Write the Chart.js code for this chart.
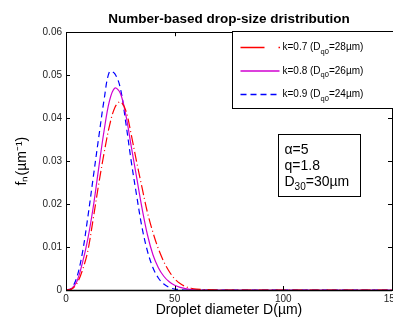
<!DOCTYPE html>
<html lang="en">
  <head>
    <meta charset="UTF-8" />
    <title>Number-based drop-size dristribution</title>
    <script src="https://cdn.jsdelivr.net/npm/chart.js"></script>
    <style>
      html, body { margin: 0; padding: 0; background: #fff; overflow: hidden; }
      #wrap { width: 410px; height: 320px; }
    </style>
  </head>
  <body>
    <div id="wrap"><canvas id="dropChart" width="410" height="320"></canvas></div>
    <script>
      // droplet diameter D (µm)
      var diameters = [0, 2.5, 5, 7.5, 10, 12.5, 15, 17.5, 20, 22.5, 25, 27.5, 30, 32.5, 35, 37.5, 40, 42.5, 45, 47.5, 50, 52.5, 55, 57.5, 60,
        70, 80, 90, 100, 110, 120, 130, 140, 150];
      // f_n values
      var fnK07 = [0, 0.0002, 0.0015, 0.0045, 0.009, 0.0165, 0.0245, 0.0318, 0.0382, 0.0425, 0.0438, 0.0418, 0.0362, 0.0298, 0.0238, 0.018, 0.0134, 0.0096, 0.0066, 0.0043, 0.0026, 0.0015, 0.0008, 0.0004, 0.0002,
        0, 0, 0, 0, 0, 0, 0, 0, 0];
      var fnK08 = [0, 0.0003, 0.002, 0.0062, 0.0118, 0.0192, 0.0282, 0.037, 0.044, 0.047, 0.0458, 0.0408, 0.0335, 0.0262, 0.019, 0.0128, 0.0082, 0.0052, 0.0032, 0.0019, 0.0011, 0.0006, 0.0003, 0.0001, 0,
        0, 0, 0, 0, 0, 0, 0, 0, 0];
      var fnK09 = [0, 0.0004, 0.003, 0.0085, 0.0168, 0.0261, 0.0353, 0.0442, 0.0508, 0.0503, 0.047, 0.039, 0.03, 0.022, 0.0145, 0.009, 0.0052, 0.0028, 0.0014, 0.0006, 0.0002, 0.0001, 0, 0, 0,
        0, 0, 0, 0, 0, 0, 0, 0, 0];
      var xTicks = [0, 50, 100, 150];
      var yTicks = [0, 0.01, 0.02, 0.03, 0.04, 0.05, 0.06];
      var legendMain = ["k=0.7 (D", "k=0.8 (D", "k=0.9 (D"];
      var legendTail = ["=28µm)", "=26µm)", "=24µm)"];
      var lineColors = ["#ff0000", "#d000d0", "#0000ff"];

      function pts(ys) {
        return diameters.map(function (d, i) { return { x: d, y: ys[i] }; });
      }

      var FONT = "'Liberation Sans', Arial, sans-serif";

      // box, inward ticks, legend and parameter box
      var decor = {
        id: "decor",
        afterDatasetsDraw: function (chart) {
          var ctx = chart.ctx, a = chart.chartArea;
          var xs = chart.scales.x, ys = chart.scales.y;
          ctx.save();
          ctx.strokeStyle = "#000";
          ctx.lineWidth = 1;
          ctx.setLineDash([]);
          ctx.strokeRect(Math.round(a.left) + 0.5, Math.round(a.top) + 0.5, Math.round(a.right - a.left), Math.round(a.bottom - a.top));
          ctx.beginPath();
          xTicks.forEach(function (v) {
            var px = Math.round(xs.getPixelForValue(v)) + 0.5;
            ctx.moveTo(px, a.bottom); ctx.lineTo(px, a.bottom - 4);
            ctx.moveTo(px, a.top); ctx.lineTo(px, a.top + 4);
          });
          yTicks.forEach(function (v) {
            var py = Math.round(ys.getPixelForValue(v)) + 0.5;
            ctx.moveTo(a.left, py); ctx.lineTo(a.left + 4, py);
            ctx.moveTo(a.right, py); ctx.lineTo(a.right - 4, py);
          });
          ctx.stroke();
          ctx.lineWidth = 1.5;
          ctx.beginPath();
          ctx.moveTo(a.left, Math.round(a.bottom) + 0.5);
          ctx.lineTo(a.right, Math.round(a.bottom) + 0.5);
          ctx.stroke();

          // legend
          var lx = Math.round(a.left) + 166.5, ly = Math.round(a.top) - 0.5;
          var lw = 170, lh = 77;
          ctx.lineWidth = 1;
          ctx.strokeStyle = "#000";
          ctx.fillStyle = "#fff";
          ctx.fillRect(lx, ly, lw, lh);
          ctx.strokeRect(lx, ly, lw, lh);
          chart.data.datasets.forEach(function (ds, i) {
            var y = ly + 16 + i * 23.5;
            ctx.strokeStyle = lineColors[i];
            ctx.lineWidth = 1.3;
            if (i === 0) {
              ctx.setLineDash([]);
              ctx.beginPath();
              ctx.moveTo(lx + 8, y); ctx.lineTo(lx + 32, y);
              ctx.moveTo(lx + 46, y); ctx.lineTo(lx + 47.5, y);
              ctx.stroke();
            } else {
              ctx.setLineDash(ds.borderDash || []);
              ctx.beginPath();
              ctx.moveTo(lx + 8, y); ctx.lineTo(lx + 47, y);
              ctx.stroke();
            }
            ctx.setLineDash([]);
            ctx.fillStyle = "#000";
            ctx.textBaseline = "middle";
            ctx.font = "10px " + FONT;
            var tx = lx + 50;
            ctx.fillText(legendMain[i], tx, y);
            tx += ctx.measureText(legendMain[i]).width;
            ctx.font = "7.5px " + FONT;
            ctx.fillText("q0", tx, y + 4);
            tx += ctx.measureText("q0").width;
            ctx.font = "10px " + FONT;
            ctx.fillText(legendTail[i], tx, y);
          });

          // parameter box
          var bx = Math.round(a.left) + 212.5, by = Math.round(a.top) + 102.5;
          ctx.strokeStyle = "#000";
          ctx.lineWidth = 1;
          ctx.fillStyle = "#fff";
          ctx.fillRect(bx, by, 82, 62);
          ctx.strokeRect(bx, by, 82, 62);
          ctx.fillStyle = "#000";
          ctx.textBaseline = "alphabetic";
          ctx.font = "14px " + FONT;
          ctx.fillText("α=5", bx + 6, by + 19);
          ctx.fillText("q=1.8", bx + 6, by + 35);
          ctx.fillText("D", bx + 6, by + 51);
          var sx = bx + 6 + ctx.measureText("D").width;
          ctx.font = "10px " + FONT;
          ctx.fillText("30", sx, by + 55);
          sx += ctx.measureText("30").width;
          ctx.font = "14px " + FONT;
          ctx.fillText("=30µm", sx, by + 51);
          ctx.restore();
        }
      };

      var ctx = document.getElementById("dropChart").getContext("2d");
      var chart = new Chart(ctx, {
        type: "line",
        data: {
          datasets: [
            { label: "k=0.7", data: pts(fnK07), borderColor: lineColors[0], borderWidth: 1.2, borderDash: [10, 3, 1, 3], pointRadius: 0, tension: 0.35 },
            { label: "k=0.8", data: pts(fnK08), borderColor: lineColors[1], borderWidth: 1.2, pointRadius: 0, tension: 0.35 },
            { label: "k=0.9", data: pts(fnK09), borderColor: lineColors[2], borderWidth: 1.2, borderDash: [6, 4], pointRadius: 0, tension: 0.35 }
          ]
        },
        options: {
          responsive: false,
          animation: false,
          layout: { padding: { left: 0, right: 18, top: 0, bottom: 0 } },
          plugins: {
            legend: { display: false },
            tooltip: { enabled: false },
            title: {
              display: true,
              fullSize: false,
              text: "Number-based drop-size dristribution",
              color: "#000",
              font: { family: FONT, size: 13.5, weight: "bold" },
              padding: { top: 11, bottom: 5 }
            }
          },
          scales: {
            x: {
              type: "linear",
              min: 0, max: 150,
              grid: { display: false, drawTicks: false },
              border: { display: false },
              afterBuildTicks: function (s) { s.ticks = xTicks.map(function (v) { return { value: v }; }); },
              afterFit: function (s) { s.height = 30; },
              ticks: { color: "#222", padding: 3, maxRotation: 0, font: { family: FONT, size: 10 } },
              title: { display: true, text: "Droplet diameter D(µm)", color: "#000", padding: { top: 0, bottom: 1 }, font: { family: FONT, size: 14 } }
            },
            y: {
              min: 0, max: 0.06,
              grid: { display: false, drawTicks: false },
              border: { display: false },
              afterBuildTicks: function (s) { s.ticks = yTicks.map(function (v) { return { value: v }; }); },
              afterFit: function (s) { s.width = 66; },
              ticks: { color: "#222", padding: 4, font: { family: FONT, size: 10 } },
              title: { display: true, text: "fₙ(µm⁻¹)", color: "#000", padding: { top: 14, bottom: 0 }, font: { family: FONT, size: 14 } }
            }
          }
        },
        plugins: [decor]
      });
    </script>
  </body>
</html>
